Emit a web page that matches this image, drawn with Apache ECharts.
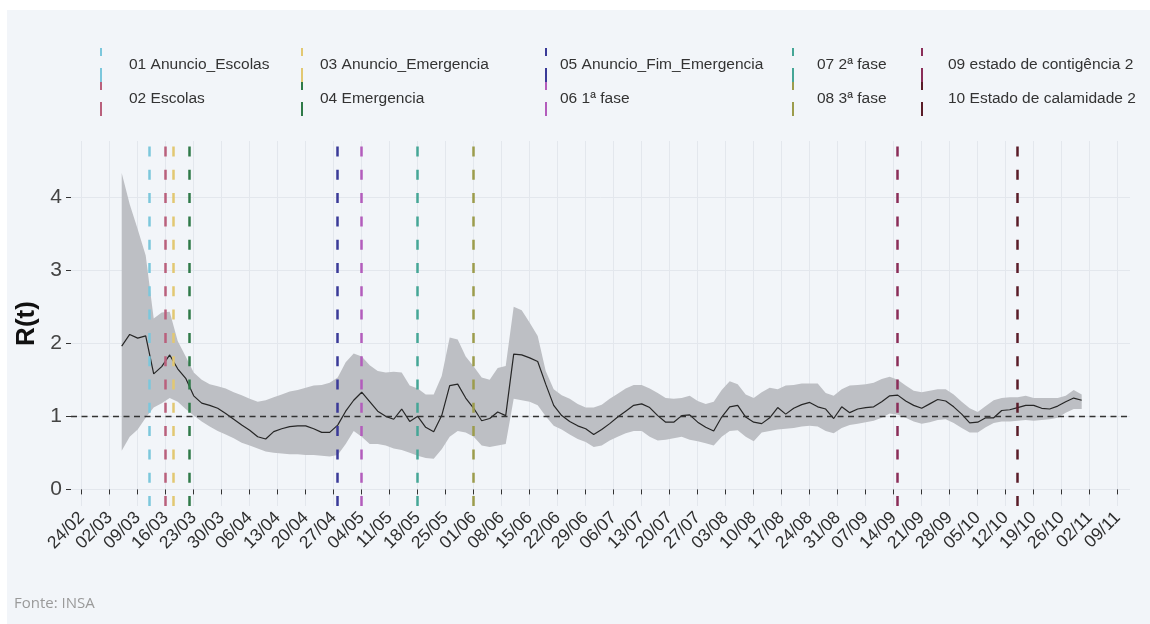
<!DOCTYPE html>
<html>
<head>
<meta charset="utf-8">
<title>R(t)</title>
<script src="https://cdn.jsdelivr.net/npm/echarts@6/dist/echarts.min.js"></script>
<style>
  html, body { margin: 0; padding: 0; background: #fff; }
  #chart { width: 1150px; height: 624px; }
</style>
</head>
<body>
<div id="chart"></div>
<script>
const DAY = 24 * 3600 * 1000;
const SERIES_START = '05/03';   // first estimate, 2020
const SERIES_STEP = 2;          // days between estimates

// R(t) estimate and its interval, one value every 2 days
const rt = [
  1.96, 2.12, 2.07, 2.10, 1.58, 1.68, 1.84, 1.65, 1.52, 1.28,
  1.18, 1.15, 1.11, 1.04, 0.96, 0.88, 0.81, 0.72, 0.69, 0.79,
  0.83, 0.86, 0.87, 0.87, 0.83, 0.78, 0.78, 0.88, 1.07, 1.22,
  1.33, 1.20, 1.07, 1.00, 0.96, 1.10, 0.93, 1.00, 0.85, 0.79,
  1.01, 1.42, 1.44, 1.25, 1.11, 0.94, 0.97, 1.06, 1.01, 1.85,
  1.84, 1.80, 1.75, 1.44, 1.15, 1.01, 0.93, 0.87, 0.83, 0.75,
  0.82, 0.90, 0.99, 1.07, 1.15, 1.17, 1.12, 1.01, 0.92, 0.92,
  1.01, 1.02, 0.92, 0.85, 0.80, 0.99, 1.13, 1.15, 0.99, 0.92,
  0.90, 0.98, 1.12, 1.03, 1.11, 1.16, 1.19, 1.13, 1.10, 0.97,
  1.13, 1.05, 1.10, 1.12, 1.13, 1.20, 1.28, 1.29, 1.21, 1.15,
  1.11, 1.17, 1.23, 1.21, 1.13, 1.03, 0.91, 0.92, 0.98, 0.98,
  1.08, 1.09, 1.12, 1.15, 1.15, 1.11, 1.10, 1.14, 1.20, 1.25,
  1.22
];
const rtLow = [
  0.53, 0.72, 0.82, 0.98, 1.12, 1.18, 1.25, 1.20, 1.10, 1.01,
  0.93, 0.86, 0.80, 0.75, 0.70, 0.64, 0.60, 0.56, 0.52, 0.50,
  0.49, 0.48, 0.48, 0.47, 0.47, 0.46, 0.45, 0.47, 0.62, 0.80,
  0.72, 0.62, 0.62, 0.60, 0.56, 0.54, 0.50, 0.46, 0.43, 0.42,
  0.55, 0.72, 0.80, 0.78, 0.72, 0.60, 0.58, 0.60, 0.62, 1.24,
  1.22, 1.20, 1.15, 1.00, 0.87, 0.82, 0.75, 0.69, 0.65, 0.58,
  0.60, 0.67, 0.72, 0.77, 0.80, 0.80, 0.72, 0.67, 0.68, 0.70,
  0.72, 0.68, 0.66, 0.63, 0.60, 0.72, 0.80, 0.81, 0.72, 0.66,
  0.78, 0.80, 0.82, 0.83, 0.84, 0.86, 0.87, 0.86, 0.80, 0.77,
  0.84, 0.88, 0.90, 0.92, 0.94, 0.98, 1.04, 1.02, 0.98, 0.93,
  0.90, 0.92, 0.95, 0.96, 0.91, 0.84, 0.78, 0.78, 0.85, 0.91,
  0.93, 0.93, 0.94, 0.95, 0.94, 0.95, 0.96, 0.98, 1.05, 1.10,
  1.10
];
const rtHigh = [
  4.33, 3.90, 3.56, 3.20, 2.34, 2.42, 2.43, 2.03, 1.82, 1.60,
  1.50, 1.44, 1.41, 1.38, 1.33, 1.29, 1.24, 1.20, 1.22, 1.26,
  1.30, 1.34, 1.36, 1.39, 1.42, 1.43, 1.46, 1.53, 1.74, 1.86,
  1.82, 1.70, 1.62, 1.60, 1.61, 1.60, 1.42, 1.38, 1.30, 1.30,
  1.55, 2.08, 2.05, 1.82, 1.68, 1.53, 1.50, 1.66, 1.69, 2.50,
  2.45, 2.28, 2.10, 1.62, 1.37, 1.29, 1.24, 1.17, 1.12, 1.12,
  1.16, 1.24, 1.31, 1.38, 1.43, 1.43, 1.38, 1.32, 1.25, 1.24,
  1.25, 1.28, 1.21, 1.17, 1.20, 1.36, 1.48, 1.44, 1.30, 1.25,
  1.33, 1.39, 1.37, 1.42, 1.43, 1.45, 1.45, 1.45, 1.32, 1.28,
  1.37, 1.42, 1.43, 1.44, 1.46, 1.51, 1.54, 1.50, 1.42, 1.35,
  1.33, 1.35, 1.37, 1.37, 1.30, 1.20, 1.11, 1.06, 1.14, 1.22,
  1.25, 1.26, 1.26, 1.28, 1.25, 1.25, 1.25, 1.25, 1.28, 1.36,
  1.30
];

const tickLabels = [
  '24/02', '02/03', '09/03', '16/03', '23/03', '30/03', '06/04', '13/04', '20/04', '27/04',
  '04/05', '11/05', '18/05', '25/05', '01/06', '08/06', '15/06', '22/06', '29/06', '06/07',
  '13/07', '20/07', '27/07', '03/08', '10/08', '17/08', '24/08', '31/08', '07/09', '14/09',
  '21/09', '28/09', '05/10', '12/10', '19/10', '26/10', '02/11', '09/11'
];
const yTicks = [0, 1, 2, 3, 4];

const eventNames = [
  '01 Anuncio_Escolas', '02 Escolas', '03 Anuncio_Emergencia', '04 Emergencia',
  '05 Anuncio_Fim_Emergencia', '06 1ª fase', '07 2ª fase', '08 3ª fase',
  '09 estado de contigência 2', '10 Estado de calamidade 2'
];
const eventDates = ['12/03', '16/03', '18/03', '22/03', '28/04', '04/05', '18/05', '01/06', '15/09', '15/10'];
const eventColors = ['#7cc7dc', '#b9607c', '#e2c872', '#2f7a48', '#3a3a98', '#b35cbc', '#45a696', '#9c9c4c', '#8a2d58', '#5a1c28'];

function toTime(dm) {
    let [d, m] = dm.split('/').map(Number);
    return Date.UTC(2020, m - 1, d);
}
function fmtDay(v) {
    let t = new Date(v);
    let d = String(t.getUTCDate()).padStart(2, '0');
    let m = String(t.getUTCMonth() + 1).padStart(2, '0');
    return d + '/' + m;
}

const start = toTime(SERIES_START);
const xOf = i => start + i * SERIES_STEP * DAY;
const tickValues = tickLabels.map(toTime);
const firstTick = tickValues[0];

const FONT = "'Liberation Sans', Arial, sans-serif";
const GRID_COLOR = '#e3e7ed';

let series = [
    { // confidence band, one polygon: upper edge forward, lower edge back
        name: 'band', type: 'custom', z: 2, silent: true,
        data: [[xOf(0), rtLow[0]]],
        renderItem: function (params, api) {
            let pts = [];
            rtHigh.forEach((v, i) => pts.push(api.coord([xOf(i), v])));
            for (let i = rtLow.length - 1; i >= 0; i--) {
                pts.push(api.coord([xOf(i), rtLow[i]]));
            }
            return {type: 'polygon', shape: {points: pts}, style: {fill: '#bdbfc4'}};
        }
    },
    {
        name: 'R(t)', type: 'line', z: 3,
        data: rt.map((v, i) => [xOf(i), v]),
        showSymbol: false,
        lineStyle: {color: '#262626', width: 1.2},
        markLine: {
            silent: true, symbol: ['none', 'none'], label: {show: false},
            lineStyle: {color: '#333', type: [6, 4.5], width: 1.4},
            data: [{yAxis: 1}]
        }
    }
];

eventNames.forEach((name, i) => {
    series.push({
        name: name, type: 'line', z: 4, data: [],
        color: eventColors[i],
        itemStyle: {color: eventColors[i]},
        markLine: {
            silent: true, symbol: ['none', 'none'], label: {show: false},
            lineStyle: {color: eventColors[i], type: [10, 13.3], width: 2.5},
            data: [{xAxis: toTime(eventDates[i])}]
        }
    });
});

// legend: 5 columns of 2 entries, key is a short dashed vertical line
const legendCols = [
    {left: 96, pad: 22},
    {left: 297, pad: 12},
    {left: 541, pad: 8},
    {left: 788, pad: 18},
    {left: 917, pad: 20}
];
let legends = legendCols.map((c, k) => ({
    orient: 'vertical',
    left: c.left - 1,
    top: 43,
    itemWidth: 2,
    itemHeight: 34,
    itemGap: 0,
    icon: 'path://M0,0h2v8h-2zM0,20h2v14h-2z',
    symbolKeepAspect: false,
    itemStyle: {borderWidth: 0},
    data: [eventNames[2 * k], eventNames[2 * k + 1]],
    textStyle: {fontFamily: FONT, fontSize: 15.5, color: '#333', padding: [0, 0, 0, c.pad]}
}));

let chart = echarts.init(document.getElementById('chart'));
chart.setOption({
    animation: false,
    backgroundColor: '#ffffff',
    graphic: [
        {type: 'rect', left: 7, top: 10, z: -10, silent: true,
         shape: {width: 1143, height: 614}, style: {fill: '#f2f5f9'}},
        {type: 'text', left: 14, top: 596, silent: true,
         style: {text: 'Fonte: INSA', fill: '#9a9a9a', fontSize: 15, fontFamily: "'Open Sans', sans-serif"}}
    ],
    legend: legends,
    grid: {left: 71, right: 20, top: 141, bottom: 118},
    xAxis: {
        type: 'value',
        min: firstTick - 2.675 * DAY,
        max: firstTick + 262.075 * DAY,
        axisLine: {show: false},
        axisTick: {show: true, customValues: tickValues, length: 5, lineStyle: {color: '#333'}},
        axisLabel: {
            customValues: tickValues, rotate: 45, hideOverlap: false,
            formatter: v => fmtDay(v),
            fontFamily: FONT, fontSize: 17.5, color: '#2e2e2e', margin: 9
        },
        splitLine: {show: true, lineStyle: {color: GRID_COLOR, width: 1}}
    },
    yAxis: {
        type: 'value',
        min: -0.227, max: 4.767,
        name: 'R(t)', nameLocation: 'middle', nameGap: 27,
        nameTextStyle: {fontFamily: FONT, fontSize: 26, fontWeight: 'bold', color: '#111'},
        axisLine: {show: false},
        axisTick: {show: true, customValues: yTicks, length: 5, lineStyle: {color: '#333'}},
        axisLabel: {customValues: yTicks, fontFamily: FONT, fontSize: 21, color: '#444', margin: 9},
        splitLine: {show: true, lineStyle: {color: GRID_COLOR, width: 1}}
    },
    series: series
});
</script>
</body>
</html>
